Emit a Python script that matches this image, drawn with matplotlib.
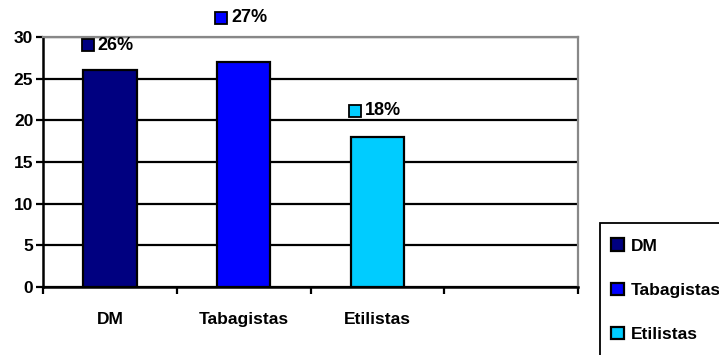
import matplotlib
matplotlib.use("Agg")
import matplotlib.pyplot as plt
import matplotlib.patches as patches
import matplotlib.transforms as mtransforms
import numpy as np

# Datos
categorias = ["DM", "Tabagistas", "Etilistas"]
valores = [26, 27, 18]
etiquetas = ["26%", "27%", "18%"]
colores = ["#000080", "#0000FF", "#00CCFF"]

plt.rcParams['font.family'] = ['Liberation Sans', 'DejaVu Sans']
plt.rcParams['font.weight'] = 'bold'
FS = 12.5      # ejes y leyenda
FS_ETQ = 13    # etiquetas de valor

fig = plt.figure(figsize=(7.19, 3.55), dpi=100)
ax = fig.add_axes([43/719, 68/355, 535/719, 250/355])

x = np.arange(len(categorias))
barras = []
for i, (v, c) in enumerate(zip(valores, colores)):
    b = ax.bar(x[i], v, width=0.4, color=c, edgecolor="black", linewidth=1.6,
               zorder=3, label=categorias[i])
    barras.append(b)

# Etiquetas de valor (cuadrito de color + porcentaje)
elevacion = [18, 32, 19]  # puntos sobre la barra
for i, (v, txt, c) in enumerate(zip(valores, etiquetas, colores)):
    desplaza = mtransforms.ScaledTranslation(-16/72, elevacion[i]/72, fig.dpi_scale_trans)
    ax.plot([x[i]], [v], marker="s", markersize=9, markerfacecolor=c,
            markeredgecolor="black", markeredgewidth=1.3, linestyle="none",
            clip_on=False, zorder=5, transform=ax.transData + desplaza)
    ax.annotate(txt, xy=(x[i], v), xytext=(-9, elevacion[i]), textcoords="offset points",
                ha="left", va="center", fontsize=FS_ETQ, fontweight="bold",
                annotation_clip=False)

ax.set_xlim(-0.5, 3.5)
ax.set_ylim(0, 30)
ax.set_yticks(range(0, 31, 5))
ax.yaxis.grid(True, color="black", linewidth=1.6, zorder=0)
ax.set_axisbelow(True)

# Marcas en los límites de categoría, etiquetas centradas
ax.set_xticks(np.arange(-0.5, 4.0, 1.0))
ax.set_xticklabels([])
ax.set_xticks(x, minor=True)
ax.set_xticklabels(categorias, minor=True)
ax.tick_params(axis="x", which="major", length=5, width=1.6, direction="out")
ax.tick_params(axis="x", which="minor", length=0, pad=18, labelsize=FS)
ax.tick_params(axis="y", length=5, width=1.6, labelsize=FS, pad=2)
for lbl in ax.get_xticklabels(minor=True) + ax.get_yticklabels():
    lbl.set_fontweight("bold")

ax.spines["left"].set_linewidth(1.8)
ax.spines["bottom"].set_linewidth(1.8)
ax.spines["top"].set_color("#888888")
ax.spines["right"].set_color("#888888")
ax.spines["top"].set_linewidth(1.6)
ax.spines["right"].set_linewidth(1.6)

# Recuadro de la leyenda (se sale de la figura por abajo y por la derecha)
fig.patches.append(patches.Rectangle((600/719, -0.05), 0.3, 132/355 + 0.05,
                                     transform=fig.transFigure, fill=False,
                                     edgecolor="black", linewidth=1.3))

# Leyenda
leg = fig.legend(handles=[b[0] for b in barras], labels=categorias,
                 loc="upper left", bbox_to_anchor=(600/719, 128/355),
                 frameon=False,
                 handlelength=0.75, handleheight=0.75, handletextpad=0.35,
                 labelspacing=1.66, borderpad=0.65, borderaxespad=0,
                 prop={"weight": "bold", "size": FS})

fig.savefig("out.png", dpi=100)
